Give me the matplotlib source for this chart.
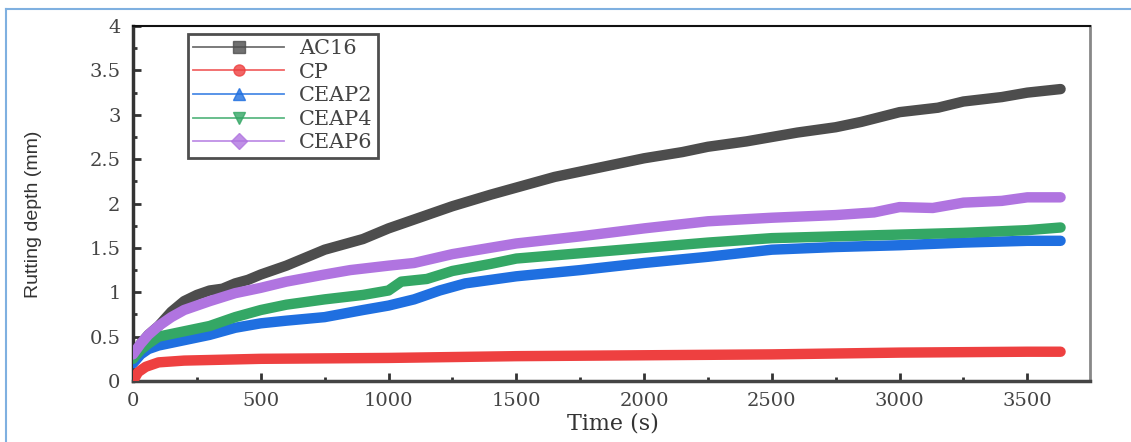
import numpy as np
import matplotlib.pyplot as plt
from matplotlib.lines import Line2D
from matplotlib.ticker import MultipleLocator

# rutting test readings (time in s, depth in mm)
t_ac16 = [0, 30, 60, 100, 150, 200, 250, 300, 350, 400, 450, 500, 600, 750, 900, 1000, 1100, 1250,
          1400, 1500, 1650, 1750, 1900, 2000, 2150, 2250, 2400, 2500, 2600, 2750, 2850, 3000, 3150,
          3250, 3400, 3500, 3630]
d_ac16 = [0.25, 0.42, 0.52, 0.62, 0.78, 0.9, 0.97, 1.02, 1.04, 1.1, 1.14, 1.2, 1.3, 1.48, 1.6, 1.72,
          1.82, 1.97, 2.1, 2.18, 2.3, 2.36, 2.45, 2.51, 2.58, 2.64, 2.7, 2.75, 2.8, 2.86, 2.92, 3.03,
          3.08, 3.15, 3.2, 3.25, 3.29]

t_cp = [0, 20, 50, 100, 200, 500, 1000, 1500, 2000, 2500, 3000, 3500, 3630]
d_cp = [0.0, 0.1, 0.16, 0.21, 0.23, 0.25, 0.26, 0.28, 0.29, 0.3, 0.32, 0.33, 0.33]

t_ceap2 = [0, 30, 60, 100, 200, 300, 400, 500, 600, 750, 900, 1000, 1100, 1200, 1300, 1500, 1750,
           2000, 2250, 2500, 2750, 3000, 3250, 3500, 3630]
d_ceap2 = [0.2, 0.3, 0.36, 0.4, 0.46, 0.52, 0.6, 0.65, 0.68, 0.72, 0.8, 0.85, 0.92, 1.02, 1.1, 1.18,
           1.25, 1.33, 1.4, 1.48, 1.51, 1.53, 1.56, 1.58, 1.58]

t_ceap4 = [0, 30, 60, 100, 200, 300, 400, 500, 600, 750, 900, 1000, 1050, 1150, 1250, 1400, 1500,
           1750, 2000, 2250, 2500, 2750, 3000, 3250, 3500, 3630]
d_ceap4 = [0.25, 0.35, 0.42, 0.5, 0.56, 0.62, 0.72, 0.8, 0.86, 0.92, 0.97, 1.02, 1.12, 1.15, 1.24,
           1.32, 1.38, 1.44, 1.5, 1.56, 1.61, 1.63, 1.65, 1.67, 1.7, 1.73]

t_ceap6 = [0, 30, 60, 100, 150, 200, 300, 400, 500, 600, 750, 850, 1000, 1100, 1250, 1500, 1750,
           2000, 2250, 2500, 2750, 2900, 3000, 3130, 3250, 3400, 3500, 3630]
d_ceap6 = [0.3, 0.42, 0.52, 0.62, 0.72, 0.8, 0.9, 0.99, 1.05, 1.12, 1.2, 1.25, 1.3, 1.33, 1.43, 1.55,
           1.63, 1.72, 1.8, 1.84, 1.87, 1.9, 1.96, 1.95, 2.01, 2.03, 2.07, 2.07]

names = ['AC16', 'CP', 'CEAP2', 'CEAP4', 'CEAP6']
colors = ['#4d4d4d', '#ee4040', '#1f6fe0', '#34a765', '#b074e0']
markers = ['s', 'o', '^', 'v', 'D']
series = [(t_ac16, d_ac16), (t_cp, d_cp), (t_ceap2, d_ceap2), (t_ceap4, d_ceap4), (t_ceap6, d_ceap6)]

serif = ['DejaVu Serif']

fig = plt.figure(figsize=(11.31, 4.42), dpi=100)
ax = fig.add_axes([0.1176, 0.138, 0.8461, 0.803])

# draw CP first so the thick bands stack like the test plot
order = [1, 2, 3, 4, 0]
for i in order:
    t, d = series[i]
    ax.plot(t, d, color=colors[i], lw=7.5, solid_capstyle='round', solid_joinstyle='round',
            zorder=3 + i)

ax.set_xlim(0, 3745)
ax.set_ylim(0, 4)
ax.xaxis.set_major_locator(MultipleLocator(500))
ax.xaxis.set_minor_locator(MultipleLocator(250))
ax.yaxis.set_major_locator(MultipleLocator(0.5))
ax.yaxis.set_minor_locator(MultipleLocator(0.25))
ax.yaxis.set_major_formatter(plt.FuncFormatter(lambda v, p: f'{v:g}'))

ax.tick_params(which='both', direction='in', top=False, right=False, colors='#333333',
               labelsize=14, width=2)
ax.tick_params(which='major', length=6)
ax.tick_params(which='minor', length=3)
ax.tick_params(axis='x', pad=8)
ax.tick_params(axis='y', pad=9)
for lab in ax.get_xticklabels() + ax.get_yticklabels():
    lab.set_family(serif)
    lab.set_color('#444444')

ax.spines['left'].set_linewidth(2.5)
ax.spines['left'].set_color('#333333')
ax.spines['bottom'].set_linewidth(2.5)
ax.spines['bottom'].set_color('#444444')
ax.spines['top'].set_linewidth(1.5)
ax.spines['top'].set_color('#111111')
ax.spines['right'].set_linewidth(2)
ax.spines['right'].set_color('#888888')

ax.set_xlabel('Time (s)', family=serif, fontsize=16, color='#333333')
ax.xaxis.set_label_coords(0.502, -0.088)
ax.set_ylabel('Rutting depth (mm)', family=['Liberation Sans Narrow', 'Liberation Sans', 'DejaVu Sans'],
              fontsize=14, color='#333333')
ax.yaxis.set_label_coords(-0.095, 0.47)

handles = [Line2D([], [], color=c, lw=1.3, marker=m, markersize=8)
           for c, m in zip(colors, markers)]
leg = ax.legend(handles, names, loc='upper left', bbox_to_anchor=(0.057, 0.978), handlelength=4.4,
                prop={'family': serif, 'size': 15}, frameon=True, fancybox=False,
                borderpad=0.25, labelspacing=0.22, handletextpad=0.7, borderaxespad=0)
leg.get_frame().set_edgecolor('#222222')
leg.get_frame().set_linewidth(2)
for txt in leg.get_texts():
    txt.set_color('#444444')
for h in leg.get_lines():
    h.set_alpha(0.8)

# thin frame around the figure
fig.add_artist(Line2D([6 / 1131, 1], [1 - 9 / 442, 1 - 9 / 442], color='#7fb0e0', lw=1.5))
fig.add_artist(Line2D([6 / 1131, 6 / 1131], [0, 1 - 9 / 442], color='#7fb0e0', lw=1.5))

fig.savefig('out.png', dpi=100)
